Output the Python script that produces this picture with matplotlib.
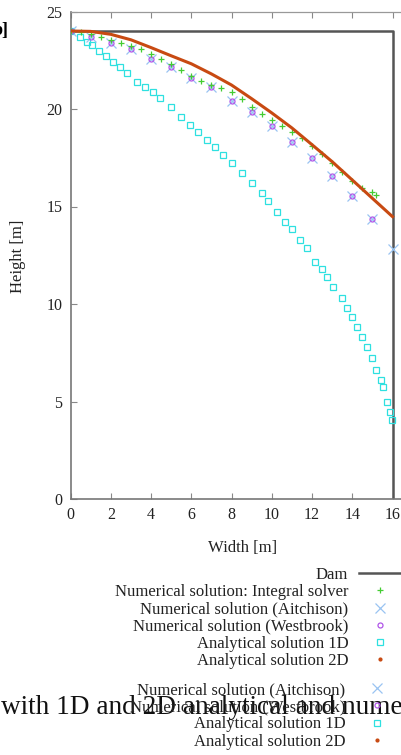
import matplotlib
matplotlib.use("Agg")
import matplotlib.pyplot as plt
from matplotlib.lines import Line2D

plt.rcParams['font.family'] = ['Liberation Serif', 'DejaVu Serif']

# dam outline
dam_x = [0, 16, 16]
dam_y = [24, 24, 0]

# numerical solution: integral solver (green +)
int_x = [0.0, 0.5, 1.0, 1.5, 2.0, 2.5, 3.0, 3.5, 4.0, 4.5, 5.0, 5.5, 6.0, 6.5, 7.0, 7.5,
         8.0, 8.5, 9.0, 9.5, 10.0, 10.5, 11.0, 11.5, 12.0, 12.5, 13.0, 13.5, 14.0, 14.5,
         15.0, 15.2]
int_y = [24.0, 23.93, 23.83, 23.7, 23.53, 23.37, 23.25, 23.08, 22.83, 22.57, 22.3, 21.98,
         21.7, 21.45, 21.25, 21.06, 20.85, 20.52, 20.12, 19.75, 19.45, 19.15, 18.84, 18.5,
         18.12, 17.7, 17.25, 16.78, 16.3, 15.96, 15.76, 15.6]

# numerical solution (Aitchison)
ait_x = [0, 1, 2, 3, 4, 5, 6, 7, 8, 9, 10, 11, 12, 13, 14, 15, 16]
ait_y = [24.0, 23.71, 23.37, 23.08, 22.55, 22.17, 21.61, 21.11, 20.41, 19.85, 19.11,
         18.31, 17.49, 16.56, 15.55, 14.37, 12.82]

# numerical solution (Westbrook)
wes_x = [0, 1, 2, 3, 4, 5, 6, 7, 8, 9, 10, 11, 12, 13, 14, 15]
wes_y = [24.0, 23.71, 23.37, 23.08, 22.55, 22.17, 21.61, 21.11, 20.41, 19.85, 19.11,
         18.31, 17.49, 16.56, 15.55, 14.37]

# analytical solution 1D
a1_x = [0.0, 0.47, 0.8, 1.05, 1.4, 1.75, 2.13, 2.46, 2.79, 3.29, 3.7, 4.12, 4.45, 5.0,
        5.49, 5.94, 6.35, 6.77, 7.18, 7.59, 8.01, 8.5, 9.0, 9.5, 9.83, 10.25, 10.66,
        10.99, 11.4, 11.77, 12.15, 12.48, 12.73, 13.06, 13.48, 13.72, 13.97, 14.22,
        14.47, 14.72, 14.97, 15.18, 15.41, 15.54, 15.74, 15.88, 15.99]
a1_y = [24.0, 23.71, 23.45, 23.28, 23.0, 22.73, 22.43, 22.17, 21.83, 21.4, 21.14, 20.89,
        20.55, 20.09, 19.6, 19.18, 18.84, 18.41, 18.07, 17.64, 17.22, 16.72, 16.22, 15.68,
        15.3, 14.73, 14.22, 13.83, 13.28, 12.86, 12.17, 11.78, 11.4, 10.89, 10.29, 9.81,
        9.32, 8.84, 8.32, 7.81, 7.21, 6.62, 6.1, 5.76, 4.99, 4.48, 4.05]

# analytical solution 2D
a2_x = [0, 1, 2, 3, 4, 5, 6, 7, 8, 9, 10, 11, 12, 13, 14, 15, 16]
a2_y = [24.0, 23.98, 23.83, 23.55, 23.15, 22.73, 22.32, 21.8, 21.23, 20.53, 19.8, 19.03,
        18.17, 17.3, 16.36, 15.42, 14.48]

labels = ["Dam", "Numerical solution: Integral solver", "Numerical solution (Aitchison)",
          "Numerical solution (Westbrook)", "Analytical solution 1D", "Analytical solution 2D"]

c_dam = '#555555'
c_int = '#44cc33'
c_ait = '#99c4f2'
c_wes = '#b055e8'
c_a1 = '#2ee0e0'
c_a2 = '#c84a12'

W, H = 401, 755
fig = plt.figure(figsize=(W / 100, H / 100), dpi=100)

# axes runs past the right edge of the picture
x0, x16 = 70.5, 392.5
ytop, ybot = 11.5, 499
ax = fig.add_axes([x0 / W, 1 - ybot / H, 17 * (x16 - x0) / 16 / W, (ybot - ytop) / H])

ax.plot(dam_x, dam_y, color=c_dam, lw=1.8, zorder=2)
ax.plot(a1_x, a1_y, 's', mfc='none', mec=c_a1, ms=4.5, mew=0.9, zorder=3)
ax.plot(ait_x, ait_y, 'x', color=c_ait, ms=7, mew=0.9, zorder=3)
ax.plot(wes_x, wes_y, 'o', mfc='none', mec=c_wes, ms=3.6, mew=0.9, zorder=4)
ax.plot(int_x, int_y, '+', color=c_int, ms=4, mew=0.9, zorder=4)
ax.plot(a2_x, a2_y, '-', color=c_a2, lw=2.2, zorder=5)

ax.set_xlim(0, 17)
ax.set_ylim(0, 25)
ax.set_xticks(range(0, 17, 2))
ax.set_yticks(range(0, 26, 5))
ax.tick_params(direction='in', length=4, width=0.8, color='#888888', labelsize=11.5,
               pad=6, top=True, labelcolor='#222222')
for s in ['left', 'bottom']:
    ax.spines[s].set_color('#777777')
    ax.spines[s].set_linewidth(1.2)
ax.spines['top'].set_color('#999999')
ax.spines['top'].set_linewidth(0.9)
ax.spines['right'].set_visible(False)

fig.text(18 / W, 1 - 256 / H, "Height [m]", rotation=90, ha='center', va='center',
         fontsize=12, color='#222222')
fig.text(243 / W, 1 - 548 / H, "Width [m]", ha='center', va='center',
         fontsize=12, color='#222222')
fig.text(9 / W, 1 - 31 / H, "b]", ha='right', va='center', fontsize=13,
         fontweight='bold', color='black')

handles = [
    Line2D([], [], color=c_dam, lw=1.8),
    Line2D([], [], ls='none', marker='+', color=c_int, ms=4, mew=0.9),
    Line2D([], [], ls='none', marker='x', color=c_ait, ms=7, mew=0.9),
    Line2D([], [], ls='none', marker='o', mfc='none', mec=c_wes, ms=3.6, mew=0.9),
    Line2D([], [], ls='none', marker='s', mfc='none', mec=c_a1, ms=4.5, mew=0.9),
    Line2D([], [], ls='none', marker='.', color=c_a2, ms=4),
]

leg_kw = dict(loc='upper right', frameon=False, markerfirst=False, fontsize=12,
              handlelength=2.45, handletextpad=0.65, labelspacing=0.07,
              borderpad=0, borderaxespad=0, labelcolor='#222222')
fig.legend(handles, labels, bbox_to_anchor=(400 / W, 1 - 567 / H), **leg_kw)
# second (repeated) legend block further down
fig.legend(handles[2:], labels[2:], bbox_to_anchor=(397 / W, 1 - 682 / H), **leg_kw)

fig.text(1 / W, 1 - 708 / H, "with 1D and 2D analytical and numerical", ha='left',
         va='center', fontsize=19.6, color='#111111')

fig.savefig("out.png", dpi=100)
